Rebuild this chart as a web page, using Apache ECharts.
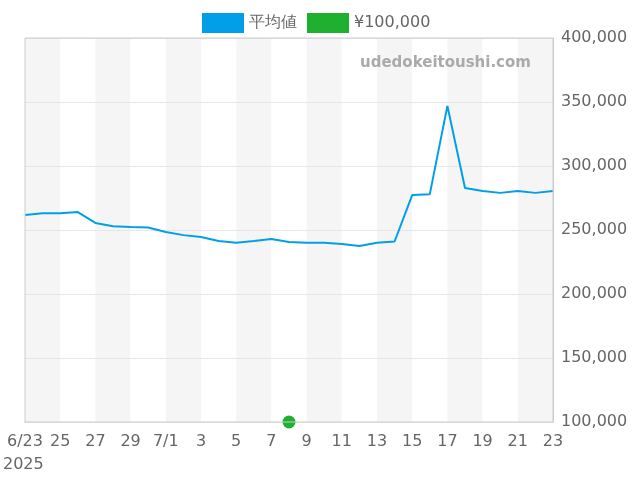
<!DOCTYPE html>
<html><head><meta charset="utf-8">
<script src="https://cdn.jsdelivr.net/npm/echarts@6/dist/echarts.min.js"></script>
<style>html,body{margin:0;padding:0;background:#fff}#c{width:640px;height:480px}</style>
</head><body><div id="c"></div>
<script>
const categories = ['6/23','24','25','26','27','28','29','30','7/1','2','3','4','5','6','7','8','9','10','11','12','13','14','15','16','17','18','19','20','21','22','23'];
const avgValues = [261700,263000,263000,264000,255500,253000,252300,252000,248400,246000,244500,241400,240000,241400,243000,240600,240000,240000,239000,237500,240000,241000,277300,278000,347000,282800,280500,279000,280500,279000,280500];
const refValues = categories.map((c,i)=> i===15 ? 100000 : null);
const yTicks = {min:100000, max:400000, interval:50000};
const F = 'DejaVu Sans';
const chart = echarts.init(document.getElementById('c'));
chart.setOption({
  animation:false,
  textStyle:{fontFamily:F},
  legend:{top:8,left:197,itemWidth:42,itemHeight:20,itemGap:10,textStyle:{fontSize:16,color:'#666',fontFamily:F},
    data:[{name:'平均値',icon:'rect'},{name:'¥100,000',icon:'rect'}]},
  grid:{left:25,right:87,top:38,bottom:58},
  xAxis:{type:'category',data:categories,boundaryGap:false,z:0,
    axisLine:{lineStyle:{color:'#ccc'}},axisTick:{show:false},
    axisLabel:{interval:1,fontSize:16,color:'#666',margin:12,fontFamily:F},
    splitArea:{show:true,interval:1,areaStyle:{color:['#f5f5f5','#ffffff']}},
    splitLine:{show:false}},
  yAxis:{type:'value',position:'right',min:yTicks.min,max:yTicks.max,interval:yTicks.interval,z:3,
    axisLine:{show:true,lineStyle:{color:'#ccc'}},
    axisLabel:{fontSize:16,color:'#666',fontFamily:F,formatter:v=>v.toLocaleString('en-US')},
    splitLine:{lineStyle:{color:'#e6e6e6'}}},
  graphic:[
    {type:'text',left:3,top:457,z:100,style:{text:'2025',fontSize:16,fill:'#666',fontFamily:F}},
    {type:'text',left:360,top:56,z:100,style:{text:'udedokeitoushi.com',fontSize:15,fontWeight:'bold',fill:'#aaa',fontFamily:F}},
    {type:'rect',z:100,shape:{x:25,y:38,width:528,height:384},style:{fill:'none',stroke:'#ccc'},silent:true}
  ],
  series:[
    {name:'平均値',type:'line',data:avgValues,symbol:'none',color:'#009fe8',lineStyle:{width:2},z:5},
    {name:'¥100,000',type:'line',data:refValues,symbol:'circle',symbolSize:13,showSymbol:true,showAllSymbol:true,clip:false,color:'#20b030',itemStyle:{borderWidth:0},lineStyle:{width:0},z:6}
  ]
});
</script></body></html>
